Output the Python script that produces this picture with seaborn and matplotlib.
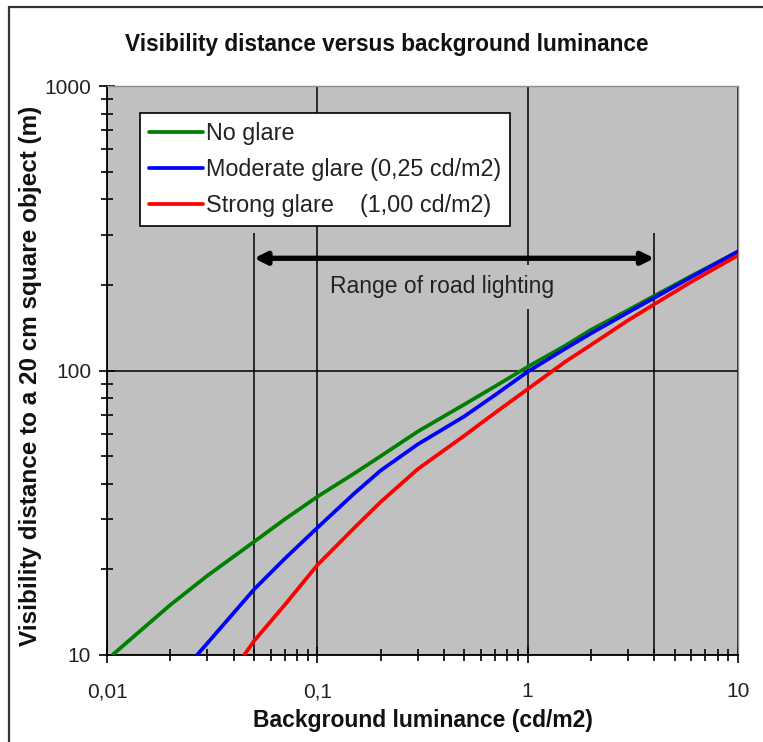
import numpy as np
import pandas as pd
import matplotlib
matplotlib.use("Agg")
import matplotlib.pyplot as plt
import seaborn as sns
from matplotlib.ticker import FixedLocator, FuncFormatter, LogLocator, NullFormatter
from matplotlib.patches import Rectangle

# ---------------- data ----------------
no_glare_x = [0.0106, 0.02, 0.03, 0.05, 0.07, 0.1, 0.15, 0.2, 0.3, 0.5, 0.7, 1, 1.5, 2, 3, 4, 6, 10]
no_glare_y = [10, 15, 19, 25, 30, 36, 43.5, 50, 61, 76, 88, 103, 122, 139, 163, 183, 215, 262]

moderate_x = [0.0268, 0.03, 0.05, 0.07, 0.1, 0.15, 0.2, 0.3, 0.5, 0.7, 1, 1.5, 2, 3, 4, 6, 10]
moderate_y = [10, 11, 17, 21.8, 28, 37, 44.5, 55, 69, 82, 99, 119, 135, 160, 180, 213, 262]

strong_x = [0.0449, 0.05, 0.07, 0.1, 0.15, 0.2, 0.3, 0.5, 0.7, 1, 1.5, 2, 3, 4, 6, 10]
strong_y = [10, 11.2, 15, 20.7, 28, 34.5, 45, 59, 71, 86, 107, 123, 150, 171, 205, 254]

series_names = ["No glare", "Moderate glare (0,25 cd/m2)", "Strong glare    (1,00 cd/m2)"]
series_colors = ["#008000", "#0000FF", "#FF0000"]

x_ticks = [0.01, 0.1, 1, 10]
x_tick_labels = ["0,01", "0,1", "1", "10"]
y_ticks = [10, 100, 1000]
y_tick_labels = ["10", "100", "1000"]

road_range = [0.05, 4]
road_arrow_y = 248
road_line_top = 304
road_text = "Range of road lighting"
road_text_pos = (0.39, 197)

title = "Visibility distance versus background luminance"
xlabel = "Background luminance (cd/m2)"
ylabel = "Visibility distance to a 20 cm square object (m)"

df = pd.concat([
    pd.DataFrame({"lum": no_glare_x, "dist": no_glare_y, "series": series_names[0]}),
    pd.DataFrame({"lum": moderate_x, "dist": moderate_y, "series": series_names[1]}),
    pd.DataFrame({"lum": strong_x, "dist": strong_y, "series": series_names[2]}),
], ignore_index=True)

# ---------------- style ----------------
sns.set_theme(style="white")
plt.rcParams["font.family"] = ["Liberation Sans", "DejaVu Sans"]

W, H = 763, 742
fig = plt.figure(figsize=(W / 100, H / 100), dpi=100)
fig.patch.set_facecolor("white")
ax = fig.add_axes([107 / W, 1 - 655 / H, 631 / W, 569 / H])
ax.set_facecolor("#C0C0C0")

sns.lineplot(data=df, x="lum", y="dist", hue="series", palette=dict(zip(series_names, series_colors)),
             estimator=None, sort=False, linewidth=2.7, ax=ax, zorder=3)

ax.set_xscale("log")
ax.set_yscale("log")
ax.set_xlim(x_ticks[0], x_ticks[-1])
ax.set_ylim(y_ticks[0], y_ticks[-1])

ax.xaxis.set_major_locator(FixedLocator(x_ticks))
ax.xaxis.set_major_formatter(FuncFormatter(lambda v, p: dict(zip(x_ticks, x_tick_labels)).get(v, "")))
ax.yaxis.set_major_locator(FixedLocator(y_ticks))
ax.yaxis.set_major_formatter(FuncFormatter(lambda v, p: dict(zip(y_ticks, y_tick_labels)).get(v, "")))
ax.xaxis.set_minor_locator(LogLocator(base=10, subs=np.arange(2, 10)))
ax.yaxis.set_minor_locator(LogLocator(base=10, subs=np.arange(2, 10)))
ax.xaxis.set_minor_formatter(NullFormatter())
ax.yaxis.set_minor_formatter(NullFormatter())

ax.tick_params(which="major", direction="inout", length=11, width=1.2, color="black",
               labelsize=15, labelcolor="#222222", pad=6, left=True, bottom=True)
ax.tick_params(which="minor", direction="inout", length=9, width=1.2, color="black", left=True, bottom=True)
ax.tick_params(axis="x", which="major", pad=14)

ax.set_axisbelow(True)
ax.grid(which="major", color="black", linewidth=1.1)
ax.grid(which="minor", visible=False)

for s in ["left", "bottom"]:
    ax.spines[s].set_color("black")
    ax.spines[s].set_linewidth(1.3)
for s in ["top", "right"]:
    ax.spines[s].set_color("#8c8c8c")
    ax.spines[s].set_linewidth(1.0)

ax.set_xlabel("")
ax.set_ylabel("")

# Range of road lighting
ax.vlines(road_range, y_ticks[0], road_line_top, color="black", linewidth=1.1, zorder=2)
ax.annotate("", xy=(road_range[0], road_arrow_y), xytext=(road_range[1], road_arrow_y),
            arrowprops=dict(arrowstyle="<|-|>", lw=3.8, color="black", mutation_scale=18,
                            shrinkA=0, shrinkB=0), zorder=4)
ax.text(road_text_pos[0], road_text_pos[1], road_text, ha="center", va="center", fontsize=16.5,
        color="#222222", zorder=2.5,
        bbox=dict(facecolor="#C0C0C0", edgecolor="none", boxstyle="square,pad=0.45"))

# legend
handles, labels = ax.get_legend_handles_labels()
leg = ax.legend(handles, labels, loc="upper left", bbox_to_anchor=(0.052, 0.953),
                frameon=True, fancybox=False, framealpha=1, edgecolor="black", facecolor="white",
                fontsize=16.8, handlelength=2.3, handletextpad=0.12, labelspacing=0.55,
                borderpad=0.4, borderaxespad=0)
leg.get_frame().set_linewidth(1.2)
for t in leg.get_texts():
    t.set_color("#222222")
leg.set_zorder(6)

# titles / labels
fig.text(387 / W, 1 - 45 / H, title, ha="center", va="center", fontsize=16.3, fontweight="bold", color="#111111")
fig.text(423 / W, 1 - 720 / H, xlabel, ha="center", va="center", fontsize=16.5, fontweight="bold", color="#111111")
fig.text(31 / W, 1 - 376 / H, ylabel, ha="center", va="center", rotation=90, fontsize=17.5,
         fontweight="bold", color="#111111")

# figure border
fig.patches.append(Rectangle((9 / W, -0.05), 1.1, 1 - 7 / H + 0.05, transform=fig.transFigure,
                             fill=False, edgecolor="#333333", linewidth=1.6, zorder=0))

fig.savefig("out.png", dpi=100, facecolor="white")
